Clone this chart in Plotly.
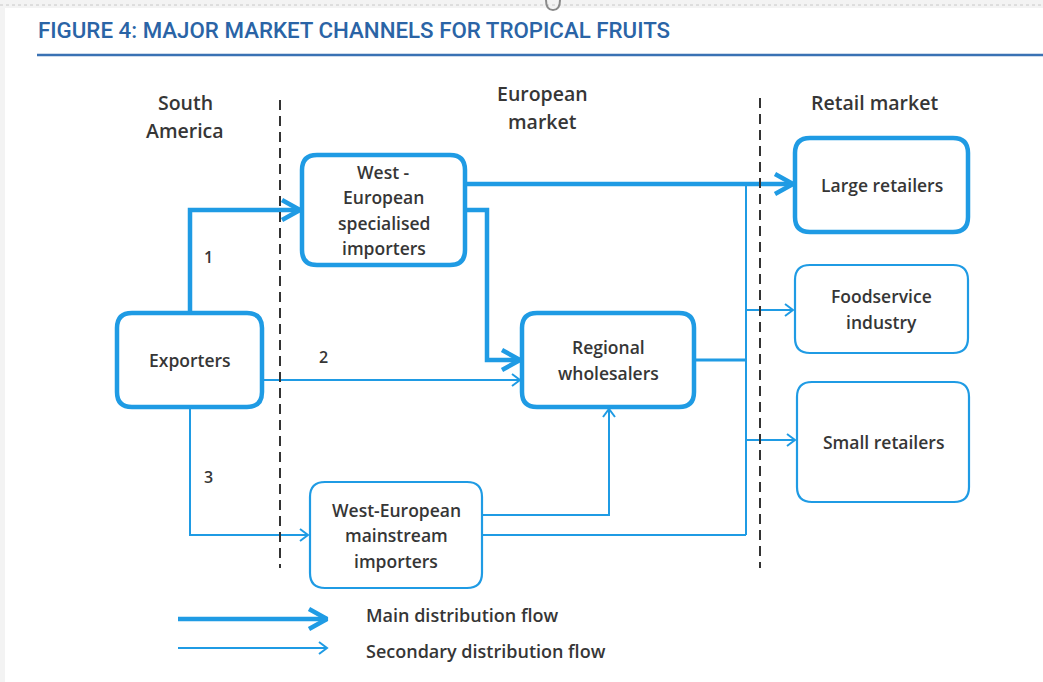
import plotly.graph_objects as go

W, H = 1043, 682
BLUE = "#1f9be4"
TEXT = "#363636"
FONT = "'Open Sans', Lato, sans-serif"
FW = 600

# ---- text content ----
title_text = "FIGURE 4: MAJOR MARKET CHANNELS FOR TROPICAL FRUITS"
region_lines = [["South", "America"], ["European", "market"], ["Retail market"]]
region_cx = [185, 542, 874]
region_top = [102, 93, 102]

# ---- nodes ----
node_lines = [
    ["Exporters"],
    ["West -", "European", "specialised", "importers"],
    ["Regional", "wholesalers"],
    ["West-European", "mainstream", "importers"],
    ["Large retailers"],
    ["Foodservice", "industry"],
    ["Small retailers"],
]
node_x0 = [117, 302, 522, 310, 795, 795, 797]
node_x1 = [262, 465, 694, 482, 968, 968, 969]
node_y0 = [313, 155, 313, 482, 138, 265, 382]
node_y1 = [407, 265, 407, 588, 232, 353, 502]
node_main = [True, True, True, False, True, False, False]

# ---- flows (waypoints) ----
flow_x = [
    [190, 190, 300],            # 1: exporters -> specialised importers
    [465, 793],                 # specialised -> large retailers
    [465, 487, 487, 520],       # specialised -> regional wholesalers
    [262, 520],                 # 2: exporters -> regional wholesalers
    [190, 190, 308],            # 3: exporters -> mainstream importers
    [482, 609, 609],            # mainstream -> regional wholesalers
    [482, 746],                 # mainstream -> bus
    [694, 746],                 # regional wholesalers -> bus
    [746, 746],                 # distribution bus
    [746, 793],                 # bus -> foodservice
    [746, 795],                 # bus -> small retailers
]
flow_y = [
    [313, 210, 210],
    [184, 184],
    [210, 210, 360, 360],
    [380, 380],
    [407, 535, 535],
    [515, 515, 409],
    [535, 535],
    [360, 360],
    [184, 535],
    [310, 310],
    [440, 440],
]
flow_main = [True, True, True, False, False, False, False, None, False, False, False]
flow_arrow = [True, True, True, True, True, True, False, False, False, True, True]

flow_numbers = ["1", "2", "3"]
flow_number_x = [208, 323, 208]
flow_number_y = [257, 357, 477]

legend_labels = ["Main distribution flow", "Secondary distribution flow"]
legend_main = [True, False]
legend_y = [619, 648]
legend_text_y = [615, 651]
legend_x = [178, 327]


def width_of(main):
    if main is None:
        return 3
    return 4.5 if main else 2


def chevron(xs, ys, main):
    x1, y1 = xs[-1], ys[-1]
    x0, y0 = xs[-2], ys[-2]
    dx, dy = x1 - x0, y1 - y0
    n = (dx * dx + dy * dy) ** 0.5
    ux, uy = dx / n, dy / n
    L, hw = (18, 10) if main else (8, 6)
    bx, by = x1 - ux * L, y1 - uy * L
    px, py = -uy, ux
    return [bx + px * hw, x1, bx - px * hw], [by + py * hw, y1, by - py * hw]


fig = go.Figure()
shapes = []
annotations = []

# top page furniture
shapes.append(dict(type="rect", x0=0, x1=W, y0=0, y1=8, fillcolor="#f3f3f3", line=dict(width=0), layer="below"))
shapes.append(dict(type="rect", x0=0, x1=5, y0=0, y1=H, fillcolor="#f3f3f3", line=dict(width=0), layer="below"))
shapes.append(dict(type="line", x0=0, x1=W, y0=5, y1=5, line=dict(color="#c8c8c8", width=1, dash="dot")))
shapes.append(dict(type="path", path="M 546 0 Q 546 10 553 10 Q 560 10 560 0",
                   line=dict(color="#8a8a8a", width=2)))
shapes.append(dict(type="line", x0=37, x1=W, y0=55, y1=55, line=dict(color="#3a72b4", width=2.5)))

annotations.append(dict(x=36, y=30, text=title_text, showarrow=False, xanchor="left", yanchor="middle",
                        font=dict(family="Roboto, 'Liberation Sans', Arial", size=22.3, weight=500,
                                  color="#2a64a6")))

# region headers
for lines, cx, top in zip(region_lines, region_cx, region_top):
    for i, t in enumerate(lines):
        annotations.append(dict(x=cx, y=top + 28 * i, text=t, showarrow=False, xanchor="center",
                                yanchor="middle", font=dict(family=FONT, size=19.5, weight=FW, color=TEXT)))

# dashed separators
for sx, sy0 in [(280, 100), (760, 98)]:
    shapes.append(dict(type="line", x0=sx, x1=sx, y0=sy0, y1=568,
                       line=dict(color="#333333", width=2, dash="10px,6px")))

# flows
for xs, ys, main, arr in zip(flow_x, flow_y, flow_main, flow_arrow):
    fig.add_trace(go.Scatter(x=xs, y=ys, mode="lines", line=dict(color=BLUE, width=width_of(main)),
                             hoverinfo="skip", showlegend=False))
    if arr:
        cx, cy = chevron(xs, ys, main)
        fig.add_trace(go.Scatter(x=cx, y=cy, mode="lines",
                                 line=dict(color=BLUE, width=width_of(main)),
                                 hoverinfo="skip", showlegend=False))

for t, x, y in zip(flow_numbers, flow_number_x, flow_number_y):
    annotations.append(dict(x=x, y=y, text=t, showarrow=False,
                            font=dict(family=FONT, size=16, weight=FW, color=TEXT)))

# nodes
for lines, x0, x1, y0, y1, main in zip(node_lines, node_x0, node_x1, node_y0, node_y1, node_main):
    r = 15
    path = (f"M {x0 + r} {y0} L {x1 - r} {y0} Q {x1} {y0} {x1} {y0 + r} L {x1} {y1 - r} "
            f"Q {x1} {y1} {x1 - r} {y1} L {x0 + r} {y1} Q {x0} {y1} {x0} {y1 - r} "
            f"L {x0} {y0 + r} Q {x0} {y0} {x0 + r} {y0} Z")
    shapes.append(dict(type="path", path=path, fillcolor="white",
                       line=dict(color=BLUE, width=4.5 if main else 2.2)))
    cx = (x0 + x1) / 2
    cy = (y0 + y1) / 2
    n = len(lines)
    step = 25.5
    for i, t in enumerate(lines):
        annotations.append(dict(x=cx, y=cy + (i - (n - 1) / 2) * step, text=t, showarrow=False,
                                xanchor="center", yanchor="middle",
                                font=dict(family=FONT, size=17.5, weight=FW, color=TEXT)))

# legend
for lab, main, ly, ty in zip(legend_labels, legend_main, legend_y, legend_text_y):
    xs = [legend_x[0], legend_x[1]]
    ys = [ly, ly]
    fig.add_trace(go.Scatter(x=xs, y=ys, mode="lines", line=dict(color=BLUE, width=width_of(main)),
                             hoverinfo="skip", showlegend=False))
    cx, cy = chevron(xs, ys, main)
    fig.add_trace(go.Scatter(x=cx, y=cy, mode="lines", line=dict(color=BLUE, width=width_of(main)),
                             hoverinfo="skip", showlegend=False))
    annotations.append(dict(x=364, y=ty, text=lab, showarrow=False, xanchor="left", yanchor="middle",
                            font=dict(family=FONT, size=18, weight=FW, color=TEXT)))

fig.update_layout(
    width=W, height=H, margin=dict(l=0, r=0, t=0, b=0),
    paper_bgcolor="white", plot_bgcolor="white",
    xaxis=dict(range=[0, W], visible=False, fixedrange=True),
    yaxis=dict(range=[H, 0], visible=False, fixedrange=True),
    shapes=shapes, annotations=annotations, showlegend=False,
)

fig.write_html("out.html", config=dict(displayModeBar=False),
               post_script="document.body.style.margin='0';document.body.style.overflow='hidden';")
